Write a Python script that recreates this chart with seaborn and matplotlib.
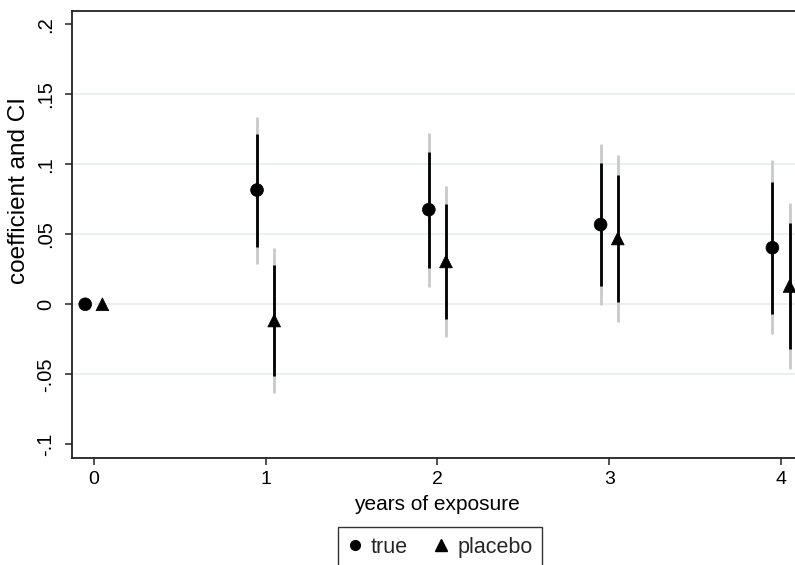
import numpy as np
import pandas as pd
import matplotlib
matplotlib.use("Agg")
import matplotlib.pyplot as plt
from matplotlib.lines import Line2D
import seaborn as sns

# Event-study estimates by years of exposure
years = [0, 1, 2, 3, 4]
series_names = ["true", "placebo"]

true_coef = [0.0, 0.0816, 0.0676, 0.0569, 0.0404]
true_lo95 = [np.nan, 0.0411, 0.0261, 0.0131, -0.0069]
true_hi95 = [np.nan, 0.1216, 0.1090, 0.1007, 0.0876]
true_lo99 = [np.nan, 0.0288, 0.0126, -0.0005, -0.0214]
true_hi99 = [np.nan, 0.1340, 0.1221, 0.1143, 0.1030]

placebo_coef = [0.0, -0.0116, 0.0306, 0.0470, 0.0131]
placebo_lo95 = [np.nan, -0.0512, -0.0105, 0.0014, -0.0319]
placebo_hi95 = [np.nan, 0.0281, 0.0714, 0.0924, 0.0583]
placebo_lo99 = [np.nan, -0.0636, -0.0231, -0.0124, -0.0462]
placebo_hi99 = [np.nan, 0.0404, 0.0845, 0.1066, 0.0721]

y_ticks = [-0.1, -0.05, 0, 0.05, 0.1, 0.15, 0.2]
y_tick_labels = ["-.1", "-.05", "0", ".05", ".1", ".15", ".2"]
x_ticks = [0, 1, 2, 3, 4]
x_tick_labels = ["0", "1", "2", "3", "4"]

sns.set_theme(style="white")
plt.rcParams["font.family"] = ["Liberation Sans", "DejaVu Sans"]

frames = []
for name, coef, lo95, hi95, lo99, hi99 in [
    ("true", true_coef, true_lo95, true_hi95, true_lo99, true_hi99),
    ("placebo", placebo_coef, placebo_lo95, placebo_hi95, placebo_lo99, placebo_hi99),
]:
    frames.append(pd.DataFrame({
        "year": years, "series": name, "coef": coef,
        "lo95": lo95, "hi95": hi95, "lo99": lo99, "hi99": hi99,
    }))
df = pd.concat(frames, ignore_index=True)
# dodge the two series around each year
offsets = {"true": -0.05, "placebo": 0.05}
df["xpos"] = df["year"] + df["series"].map(offsets)

fig = plt.figure(figsize=(7.95, 5.65), dpi=100)
ax = fig.add_axes([72 / 795, 107 / 565, 730.8 / 795, 447.3 / 565])

grid_color = "#E6EDEF"
for yv in [-0.05, 0, 0.05, 0.1, 0.15]:
    ax.axhline(yv, color=grid_color, lw=1.2, zorder=0)

ci = df.dropna(subset=["lo95"])
ax.vlines(ci["xpos"], ci["lo99"], ci["hi99"], color="#CACACA", lw=2.0, zorder=2)
ax.vlines(ci["xpos"], ci["lo95"], ci["hi95"], color="black", lw=2.0, zorder=3)

sns.scatterplot(
    data=df, x="xpos", y="coef", style="series",
    markers={"true": "o", "placebo": "^"}, style_order=series_names,
    color="black", edgecolor="black", s=85, linewidth=0.5,
    legend=False, ax=ax, zorder=4,
)

ax.set_xlim(-0.127, 4.127)
ax.set_ylim(-0.1098, 0.2097)
ax.set_xticks(x_ticks)
ax.set_xticklabels(x_tick_labels, fontsize=14)
ax.set_yticks(y_ticks)
ax.set_yticklabels(y_tick_labels, rotation=90, va="center", fontsize=14.5)

for side in ["left", "bottom", "top", "right"]:
    ax.spines[side].set_visible(True)
    ax.spines[side].set_color("#222222")
    ax.spines[side].set_linewidth(1.3)

ax.tick_params(axis="both", which="major", direction="out", length=5,
               width=1.1, color="#222222", labelcolor="black")
ax.tick_params(axis="y", pad=7)
ax.tick_params(axis="x", pad=4)
ax.tick_params(left=True, bottom=True)

ax.set_xlabel("years of exposure", fontsize=15, color="black")
ax.set_ylabel("coefficient and CI", fontsize=17.5, color="black")
ax.xaxis.set_label_coords((437 - 72) / 730.8, -0.082)
ax.yaxis.set_label_coords(-0.0575, 0.597)

handles = [
    Line2D([], [], marker="o", color="black", linestyle="none", markersize=7),
    Line2D([], [], marker="^", color="black", linestyle="none", markersize=8),
]
leg = fig.legend(handles, series_names, loc="upper center",
                 bbox_to_anchor=(440 / 795, 1 - 527 / 565), ncol=2,
                 fontsize=15.5,
                 frameon=True, fancybox=False, edgecolor="black",
                 handlelength=0.7, handletextpad=0.4, columnspacing=1.2,
                 borderpad=0.45, borderaxespad=0)
leg.get_frame().set_linewidth(1.0)

fig.savefig("out.png", dpi=100, facecolor="white")
